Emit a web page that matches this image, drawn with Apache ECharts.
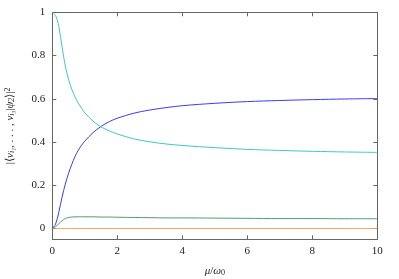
<!DOCTYPE html>
<html><head><meta charset="utf-8">
<script src="https://cdn.jsdelivr.net/npm/echarts@6/dist/echarts.min.js"></script>
<style>html,body{margin:0;padding:0;background:#fff}#c{width:399px;height:279px}</style>
</head><body><div id="c"></div>
<script>
const xs = [0,0.1,0.2,0.3,0.4,0.5,0.6,0.7,0.8,0.9,1.0,1.25,1.5,1.75,2,2.5,3,3.5,4,5,6,7,8,9,10];
const cyanVals  = [1,0.985,0.935,0.84,0.752,0.69,0.643,0.608,0.58,0.556,0.535,0.497,0.47,0.452,0.437,0.415,0.401,0.391,0.384,0.374,0.366,0.361,0.357,0.354,0.352];
const blueVals  = [0,0.02,0.075,0.145,0.205,0.255,0.297,0.333,0.362,0.385,0.404,0.443,0.472,0.494,0.51,0.533,0.548,0.559,0.568,0.579,0.587,0.592,0.596,0.599,0.601];
const greenVals = [0,0.008,0.022,0.036,0.046,0.051,0.053,0.054,0.054,0.054,0.054,0.054,0.053,0.053,0.052,0.051,0.050,0.049,0.049,0.048,0.047,0.046,0.046,0.045,0.045];
const orangeVals= [0,0,0,0,0,0,0,0,0,0,0,0,0,0,0,0,0,0,0,0,0,0,0,0,0];
const yTicks = [0,0.2,0.4,0.6,0.8,1];
const xTicks = [0,2,4,6,8,10];

const FONT = 'Liberation Serif';
const frame = '#666666';
const pair = arr => xs.map((x,i)=>[x,arr[i]]);
const mk = (name, arr, color) => ({
  name, type:'line', data: pair(arr), showSymbol:false, smooth:0.35,
  lineStyle:{color, width:1}, itemStyle:{color}, xAxisIndex:0, yAxisIndex:0, animation:false
});

const chart = echarts.init(document.getElementById('c'), null, {renderer:'canvas'});
chart.setOption({
  animation:false,
  grid:{left:52.3, right:21.7, top:12.3, bottom:39.7, containLabel:false, outerBoundsMode:'none'},
  xAxis:[{
    type:'value', min:0, max:10, interval:2, position:'bottom',
    axisLine:{show:true, onZero:false, lineStyle:{color:frame, width:1}},
    axisTick:{show:true, inside:true, length:4, customValues:xTicks, lineStyle:{color:frame}},
    axisLabel:{customValues:xTicks, color:'#222', fontFamily:FONT, fontSize:11, margin:6},
    splitLine:{show:false},
    name:'{i|μ}/{i|ω}{s|0}', nameLocation:'middle', nameGap:26,
    nameTextStyle:{color:'#222', fontFamily:FONT, fontSize:11,
      rich:{i:{fontStyle:'italic', fontFamily:FONT, fontSize:11, color:'#222'},
            s:{fontFamily:FONT, fontSize:8, color:'#222', verticalAlign:'bottom', padding:[4,0,0,0]}}}
  },{
    type:'value', min:0, max:10, interval:2, position:'top',
    axisLine:{show:true, onZero:false, lineStyle:{color:frame, width:1}},
    axisTick:{show:true, inside:true, length:4, customValues:xTicks, lineStyle:{color:frame}},
    axisLabel:{show:false}, splitLine:{show:false}
  }],
  yAxis:[{
    type:'value', min:-0.05, max:1, position:'left',
    axisLine:{show:true, onZero:false, lineStyle:{color:frame, width:1}},
    axisTick:{show:true, inside:true, length:4, customValues:yTicks, lineStyle:{color:frame}},
    axisLabel:{customValues:yTicks, color:'#222', fontFamily:FONT, fontSize:11, margin:7},
    splitLine:{show:false},
    name:'|⟨{i|ν}{s|i₁}, . . . , {i|ν}{s|i₃}|{i|ψ}{s|2}⟩|{p|2}',
    nameLocation:'middle', nameRotate:90, nameGap:36,
    nameTextStyle:{color:'#222', fontFamily:FONT, fontSize:11,
      rich:{i:{fontStyle:'italic', fontFamily:FONT, fontSize:11, color:'#222'},
            s:{fontStyle:'italic', fontFamily:FONT, fontSize:8, color:'#222', verticalAlign:'bottom', padding:[4,0,0,0]},
            p:{fontFamily:FONT, fontSize:8, color:'#222', verticalAlign:'top', padding:[0,0,4,0]}}}
  },{
    type:'value', min:-0.05, max:1, position:'right',
    axisLine:{show:true, onZero:false, lineStyle:{color:frame, width:1}},
    axisTick:{show:true, inside:true, length:4, customValues:yTicks, lineStyle:{color:frame}},
    axisLabel:{show:false}, splitLine:{show:false}
  }],
  series:[
    mk('orange', orangeVals, '#f2a65a'),
    mk('green', greenVals, '#4f9e6e'),
    mk('blue', blueVals, '#3b3bf5'),
    mk('cyan', cyanVals, '#3ccac4')
  ]
});
</script></body></html>
